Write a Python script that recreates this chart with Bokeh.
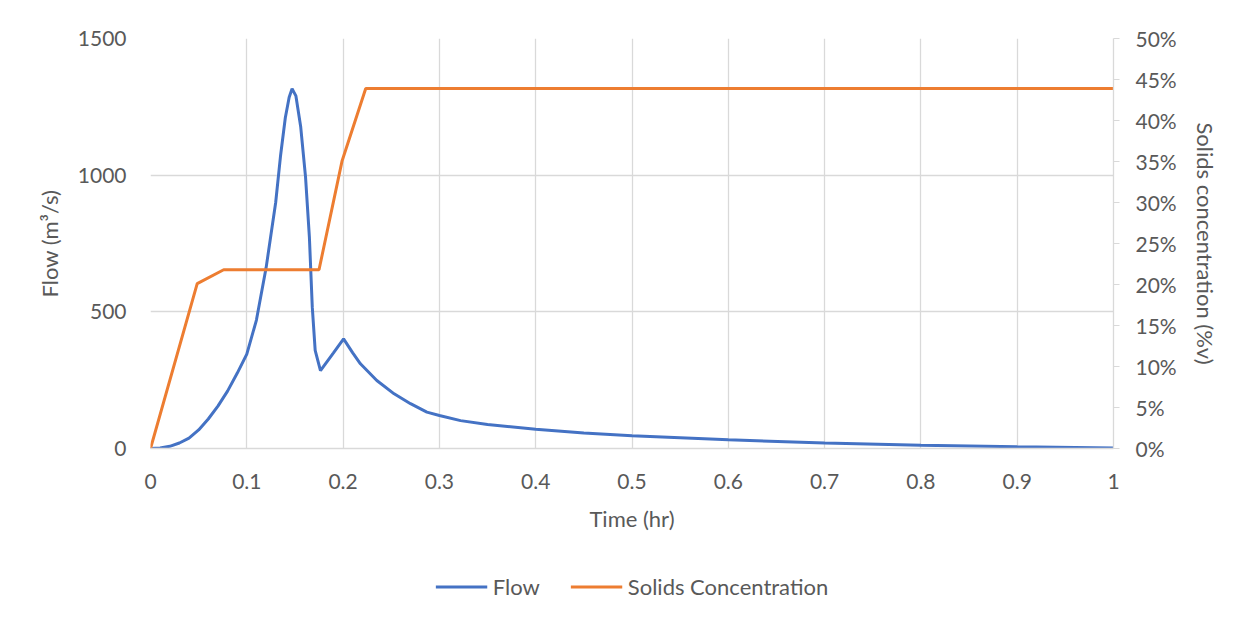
from bokeh.plotting import figure
from bokeh.layouts import column
from bokeh.models import (LinearAxis, Range1d, Legend, LegendItem,
                          PrintfTickFormatter, FixedTicker)
from bokeh.embed import file_html
from bokeh.resources import INLINE

# ---- data ----
flow_t = [0, 0.01, 0.02, 0.03, 0.04, 0.05, 0.06, 0.07, 0.08, 0.09, 0.10, 0.11,
          0.12, 0.125, 0.13, 0.135, 0.14, 0.144, 0.147, 0.151, 0.156, 0.161,
          0.165, 0.168, 0.171, 0.1765, 0.19, 0.2005, 0.21, 0.218, 0.235, 0.253,
          0.27, 0.287, 0.30, 0.322, 0.35, 0.40, 0.45, 0.50, 0.60, 0.70, 0.80,
          0.90, 1.00]
flow_q = [0, 2, 8, 20, 38, 68, 108, 155, 210, 275, 345, 470,
          660, 780, 900, 1070, 1210, 1285, 1316, 1290, 1176, 993,
          773, 517, 359, 285, 350, 401, 350, 310, 249, 200,
          164, 133, 121, 102, 88, 70, 57, 47, 32, 20, 12,
          6, 2]

conc_t = [0, 0.0485, 0.076, 0.175, 0.199, 0.2235, 1.0]
conc_pct = [0, 20.1, 21.8, 21.8, 35.1, 43.9, 43.9]

x_ticks = [0, 0.1, 0.2, 0.3, 0.4, 0.5, 0.6, 0.7, 0.8, 0.9, 1.0]
flow_ticks = [0, 500, 1000, 1500]
conc_ticks = [0, 5, 10, 15, 20, 25, 30, 35, 40, 45, 50]

FONT = "Lato"
GRAY = "#595959"
GRID = "#d9d9d9"
BLUE = "#4472C4"
ORANGE = "#ED7D31"

W = 1246
p = figure(width=W, height=546,
           output_backend="svg", toolbar_location=None,
           x_range=Range1d(0, 1), y_range=Range1d(0, 1500),
           min_border_left=150, min_border_right=W - 1113,
           min_border_top=38, min_border_bottom=546 - 448)
p.outline_line_color = None
p.background_fill_color = "white"
p.border_fill_color = "white"
p.extra_y_ranges = {"conc": Range1d(0, 50)}

# grids
p.xgrid.ticker = FixedTicker(ticks=x_ticks)
p.ygrid.ticker = FixedTicker(ticks=flow_ticks)
for g in (p.xgrid, p.ygrid):
    g.grid_line_color = GRID
    g.grid_line_width = 1.3

# bottom axis
xa = p.xaxis[0]
xa.ticker = FixedTicker(ticks=x_ticks)
xa.axis_label = "Time (hr)"
xa.axis_line_color = GRID
xa.axis_line_width = 1.3
xa.major_tick_line_color = None
xa.minor_tick_line_color = None
xa.major_label_standoff = 19
xa.axis_label_standoff = 13

# left axis
ya = p.yaxis[0]
ya.ticker = FixedTicker(ticks=flow_ticks)
ya.axis_label = "Flow (m³/s)"
ya.axis_line_color = None
ya.major_tick_line_color = None
ya.minor_tick_line_color = None
ya.major_label_standoff = 18
ya.axis_label_standoff = 12

# right axis
ra = LinearAxis(y_range_name="conc", ticker=FixedTicker(ticks=conc_ticks),
                formatter=PrintfTickFormatter(format="%d%%"),
                axis_label="Solids concentration (%v)")
ra.axis_line_color = GRID
ra.axis_line_width = 1.3
ra.major_tick_line_color = GRID
ra.major_tick_out = 6
ra.major_tick_in = 0
ra.minor_tick_line_color = None
ra.major_label_standoff = 16
ra.axis_label_standoff = 12
p.add_layout(ra, "right")

for ax in (xa, ya, ra):
    ax.major_label_text_font = FONT
    ax.major_label_text_font_size = "21px"
    ax.major_label_text_color = GRAY
    ax.axis_label_text_font = FONT
    ax.axis_label_text_font_size = "22px"
    ax.axis_label_text_color = GRAY
    ax.axis_label_text_font_style = "normal"

p.line(flow_t, flow_q, line_color=BLUE, line_width=3)
p.line(conc_t, conc_pct, line_color=ORANGE, line_width=3, y_range_name="conc")

# ---- legend strip below the chart ----
lg = figure(width=W, height=80, output_backend="svg", toolbar_location=None,
            x_range=Range1d(5, 6), y_range=Range1d(0, 1500),
            min_border_left=16, min_border_right=0,
            min_border_top=0, min_border_bottom=0)
lg.axis.visible = False
lg.grid.visible = False
lg.outline_line_color = None
lg.border_fill_color = "white"
l_flow = lg.line(flow_t, flow_q, line_color=BLUE, line_width=3)
l_conc = lg.line(conc_t, [c * 30 for c in conc_pct], line_color=ORANGE, line_width=3)

legend = Legend(items=[LegendItem(label="Flow", renderers=[l_flow]),
                       LegendItem(label="Solids Concentration", renderers=[l_conc])],
                orientation="horizontal", location="center",
                padding=0, margin=0, spacing=30, label_standoff=6,
                glyph_width=52, glyph_height=20,
                border_line_color=None, background_fill_alpha=0,
                label_text_font=FONT, label_text_font_size="22px",
                label_text_color=GRAY)
lg.add_layout(legend, "center")

layout = column(p, lg, spacing=0)
open("out.html", "w").write(file_html(layout, INLINE))
